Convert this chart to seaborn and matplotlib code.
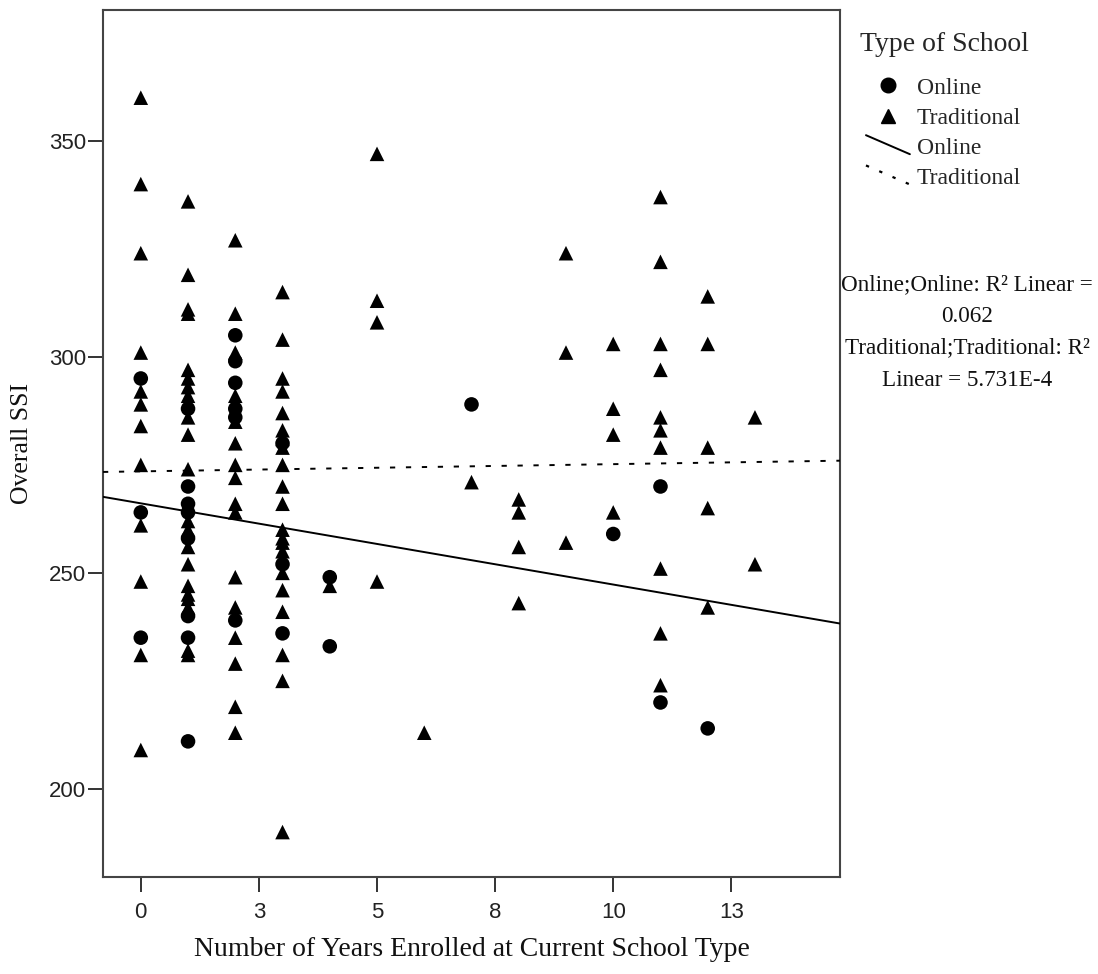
import numpy as np
import pandas as pd
import matplotlib
matplotlib.use("Agg")
import matplotlib.pyplot as plt
import seaborn as sns
from matplotlib.lines import Line2D
from matplotlib.legend_handler import HandlerLine2D

# ---------------- data ----------------
online_years = [0, 0, 0,
                1, 1, 1, 1, 1, 1, 1, 1,
                2, 2, 2, 2, 2, 2,
                3, 3, 3,
                4, 4,
                7,
                10,
                11, 11,
                12]
online_ssi = [295, 264, 235,
              288, 270, 266, 264, 258, 240, 235, 211,
              305, 299, 294, 288, 286, 239,
              280, 252, 236,
              249, 233,
              289,
              259,
              270, 220,
              214]

trad_years = ([0] * 12 + [1] * 21 + [2] * 16 + [3] * 21 + [4] + [5] * 4 + [6] + [7]
              + [8] * 4 + [9] * 3 + [10] * 4 + [11] * 10 + [12] * 5 + [13] * 2)
trad_ssi = [360, 340, 324, 301, 292, 289, 284, 275, 261, 248, 231, 209,
            336, 319, 311, 310, 297, 295, 293, 291, 286, 282, 274, 262, 260, 256, 252, 247, 245, 244, 242, 232, 231,
            327, 310, 301, 291, 285, 280, 275, 272, 266, 264, 249, 242, 235, 229, 219, 213,
            315, 304, 295, 292, 287, 283, 281, 279, 275, 270, 266, 260, 258, 257, 255, 250, 246, 241, 231, 225, 190,
            247,
            347, 313, 308, 248,
            213,
            271,
            267, 264, 256, 243,
            324, 301, 257,
            303, 288, 282, 264,
            337, 322, 303, 297, 286, 283, 279, 251, 236, 224,
            314, 303, 279, 265, 242,
            286, 252]

# fitted linear lines
fit_schools = ["Online", "Traditional"]
fit_intercepts = [266.1, 273.5]
fit_slopes = [-1.88, 0.167]

r2_lines = ["Online;Online: R\u00b2 Linear =", "0.062",
            "Traditional;Traditional: R\u00b2", "Linear = 5.731E-4"]

x_ticks = [0, 2.5, 5, 7.5, 10, 12.5]
x_tick_labels = ["0", "3", "5", "8", "10", "13"]
y_ticks = [200, 250, 300, 350]
x_limits = (-0.8, 14.8)
y_limits = (179.6, 380.3)

legend_title = "Type of School"
x_title = "Number of Years Enrolled at Current School Type"
y_title = "Overall SSI"

# ---------------- figure ----------------
sns.set_theme(style="white")
plt.rcParams['font.family'] = ['Liberation Serif', 'DejaVu Serif']

W, H = 1098, 974
fig = plt.figure(figsize=(W / 100, H / 100), dpi=100)
ax = fig.add_axes([103 / W, 1 - 877 / H, (840 - 103) / W, (877 - 10) / H])

df = pd.DataFrame({
    "years": online_years + trad_years,
    "ssi": online_ssi + trad_ssi,
    "school": ["Online"] * len(online_years) + ["Traditional"] * len(trad_years),
})

sns.scatterplot(data=df, x="years", y="ssi", style="school",
                markers={"Online": "o", "Traditional": "^"},
                color="black", s=110, linewidth=0, edgecolor="none",
                legend=False, ax=ax, zorder=3)

x_line = np.array(x_limits)
line_styles = {"Online": "-", "Traditional": (0, (2.7, 5.5))}
for school, b0, b1 in zip(fit_schools, fit_intercepts, fit_slopes):
    sns.lineplot(x=x_line, y=b0 + b1 * x_line, ax=ax, color="black",
                 linewidth=1.4, linestyle=line_styles[school], zorder=4)

ax.set_xlim(*x_limits)
ax.set_ylim(*y_limits)
ax.set_xticks(x_ticks)
ax.set_xticklabels(x_tick_labels)
ax.set_yticks(y_ticks)

for lab in ax.get_xticklabels() + ax.get_yticklabels():
    lab.set_fontfamily(['Liberation Sans', 'DejaVu Sans'])
    lab.set_fontsize(16)
    lab.set_color('#222222')

ax.tick_params(axis='both', direction='out', length=10.8, width=1.4,
               color='#333333', left=True, bottom=True)
ax.tick_params(axis='x', pad=7)
ax.tick_params(axis='y', pad=1.5)
for sp in ax.spines.values():
    sp.set_color('#444444')
    sp.set_linewidth(1.5)
    sp.set_visible(True)

ax.set_xlabel(x_title, fontsize=20, color='#111111')
ax.set_ylabel(y_title, fontsize=18.5, color='#111111')
ax.xaxis.set_label_coords(0.5, -(950 - 877) / (877 - 10))
ax.yaxis.set_label_coords(-(103 - 22) / (840 - 103), 0.5)
ax.xaxis.label.set_va('center')
ax.yaxis.label.set_va('center')


class HandlerDiag(HandlerLine2D):
    def create_artists(self, legend, orig_handle, xdescent, ydescent,
                       width, height, fontsize, trans):
        x0, x1 = -xdescent, -xdescent + width
        y0, y1 = -ydescent + height * 1.15, -ydescent + height * 0.0
        line = Line2D([x0, x1], [y0, y1])
        self.update_prop(line, orig_handle, legend)
        line.set_transform(trans)
        return [line]


h_on = Line2D([], [], marker='o', color='black', linestyle='none', markersize=10.5)
h_tr = Line2D([], [], marker='^', color='black', linestyle='none', markersize=10.5)
l_on = Line2D([], [], color='black', linewidth=1.4, linestyle='-')
l_tr = Line2D([], [], color='black', linewidth=1.6, linestyle=(0, (1.5, 5)))

leg = ax.legend([h_on, h_tr, l_on, l_tr], ["Online", "Traditional", "Online", "Traditional"],
                handler_map={l_on: HandlerDiag(), l_tr: HandlerDiag()},
                title=legend_title, title_fontsize=20, fontsize=17,
                loc='upper left', bbox_to_anchor=(860 / W, 1 - 32 / H),
                bbox_transform=fig.transFigure, frameon=False,
                borderpad=0, borderaxespad=0, handlelength=1.86,
                handletextpad=0.3, labelspacing=0.37, alignment='left',
                numpoints=1)
# indent the entries under the title and open the gap below the title
leg._legend_handle_box.pad = 4.3
leg._legend_box.sep = 10.2

r2_y = [285, 317, 348, 380]
for txt, yy in zip(r2_lines, r2_y):
    fig.text(967 / W, 1 - yy / H, txt, ha='center', va='center', fontsize=16.7,
             color='#111111')

fig.savefig("out.png", dpi=100)
